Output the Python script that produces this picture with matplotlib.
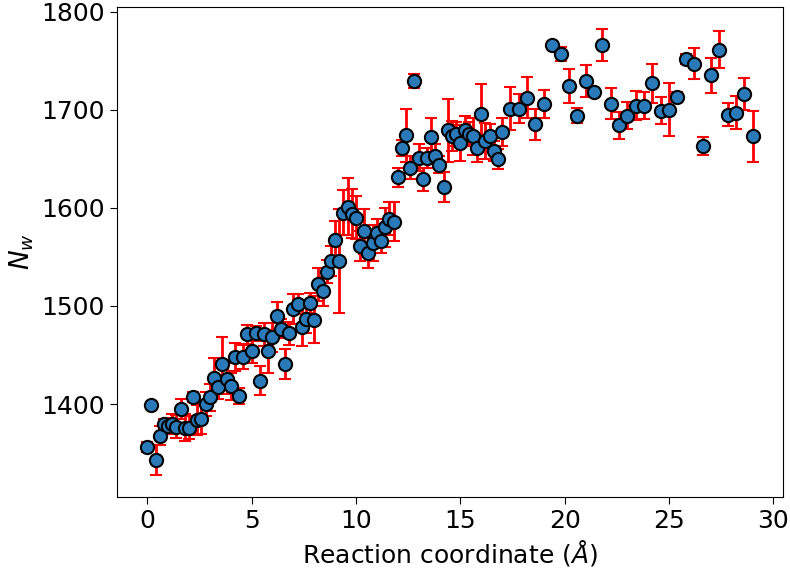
import matplotlib
matplotlib.use("Agg")
import matplotlib.pyplot as plt

# reaction coordinate (A)
x_fine = [0.0, 0.2, 0.4, 0.6, 0.8, 1.0, 1.2, 1.4, 1.6, 1.8,
          2.0, 2.2, 2.4, 2.6, 2.8, 3.0, 3.2, 3.4, 3.6, 3.8,
          4.0, 4.2, 4.4, 4.6, 4.8, 5.0, 5.2, 5.4, 5.6, 5.8,
          6.0, 6.2, 6.4, 6.6, 6.8, 7.0, 7.2, 7.4, 7.6, 7.8,
          8.0, 8.2, 8.4, 8.6, 8.8, 9.0, 9.2, 9.4, 9.6, 9.8,
          10.0, 10.2, 10.4, 10.6, 10.8, 11.0, 11.2, 11.4, 11.6, 11.8,
          12.0, 12.2, 12.4, 12.6, 12.8, 13.0, 13.2, 13.4, 13.6, 13.8,
          14.0, 14.2, 14.4, 14.6, 14.8, 15.0, 15.2, 15.4, 15.6, 15.8,
          16.0, 16.2, 16.4, 16.6, 16.8, 17.0]
x_coarse = [17.4, 17.8, 18.2, 18.6, 19.0, 19.4, 19.8, 20.2, 20.6, 21.0,
            21.4, 21.8, 22.2, 22.6, 23.0, 23.4, 23.8, 24.2, 24.6, 25.0,
            25.4, 25.8, 26.2, 26.6, 27.0, 27.4, 27.8, 28.2, 28.6, 29.0]

nw_fine = [1356, 1399, 1343, 1368, 1380, 1378, 1380, 1377, 1395, 1376,
           1376, 1407, 1384, 1385, 1400, 1407, 1427, 1417, 1441, 1426,
           1418, 1448, 1408, 1448, 1471, 1454, 1472, 1424, 1471, 1454,
           1468, 1490, 1477, 1441, 1472, 1497, 1502, 1479, 1487, 1503,
           1486, 1522, 1515, 1535, 1546, 1567, 1546, 1595, 1601, 1594,
           1590, 1561, 1576, 1554, 1564, 1574, 1566, 1580, 1589, 1586,
           1631, 1661, 1674, 1641, 1729, 1651, 1629, 1651, 1672, 1653,
           1644, 1621, 1679, 1673, 1675, 1666, 1679, 1675, 1673, 1661,
           1696, 1668, 1673, 1658, 1650, 1677]
nw_coarse = [1701, 1701, 1712, 1685, 1706, 1766, 1757, 1724, 1694, 1729,
             1718, 1766, 1706, 1684, 1694, 1704, 1704, 1727, 1699, 1700,
             1713, 1752, 1747, 1663, 1735, 1761, 1695, 1697, 1716, 1673]

err_fine = [5, 2, 15, 10, 5, 8, 10, 12, 10, 14,
            12, 5, 15, 15, 12, 14, 20, 12, 27, 16,
            14, 14, 8, 12, 10, 12, 8, 15, 12, 22,
            15, 14, 10, 15, 12, 15, 10, 20, 15, 10,
            24, 17, 15, 12, 15, 20, 53, 23, 29, 25,
            22, 15, 23, 15, 18, 15, 12, 20, 17, 20,
            10, 8, 27, 12, 7, 14, 12, 10, 20, 12,
            9, 15, 32, 15, 12, 18, 15, 12, 19, 14,
            30, 18, 12, 10, 10, 14]
err_coarse = [22, 15, 21, 16, 14, 3, 7, 17, 8, 16,
              3, 16, 16, 14, 14, 15, 14, 20, 14, 27,
              5, 5, 16, 9, 18, 19, 12, 17, 16, 26]

x = x_fine + x_coarse
nw = nw_fine + nw_coarse
err = err_fine + err_coarse

fig = plt.figure(figsize=(7.9, 5.74), dpi=100)
ax = fig.add_axes([0.148, 0.134, 0.843, 0.854])

ax.errorbar(x, nw, yerr=err, fmt='o', color='#2a7ab9', markeredgecolor='black',
            markeredgewidth=1.5, markersize=9.5, ecolor='red', elinewidth=2,
            capsize=4, capthick=2, zorder=3)

ax.set_xticks([0, 5, 10, 15, 20, 25, 30])
ax.set_yticks([1400, 1500, 1600, 1700, 1800])
ax.tick_params(labelsize=18, length=5)
ax.set_xlabel(r'Reaction coordinate ($\AA$)', fontsize=18)
ax.set_ylabel(r'$N_w$', fontsize=19)

fig.savefig("out.png", dpi=100)
